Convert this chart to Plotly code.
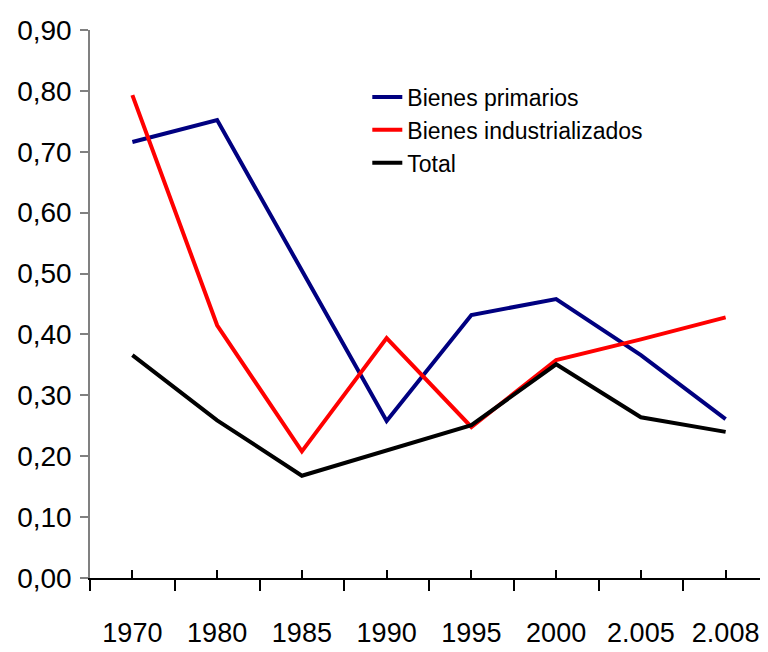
import plotly.graph_objects as go

categories = ["1970", "1980", "1985", "1990", "1995", "2000", "2.005", "2.008"]
primarios = [0.716, 0.752, 0.505, 0.258, 0.432, 0.458, 0.366, 0.261]
industrializados = [0.793, 0.415, 0.208, 0.394, 0.248, 0.358, 0.392, 0.428]
total = [0.366, 0.259, 0.168, 0.209, 0.251, 0.351, 0.264, 0.240]
y_ticks = [0.0, 0.1, 0.2, 0.3, 0.4, 0.5, 0.6, 0.7, 0.8, 0.9]
y_labels = ["0,00", "0,10", "0,20", "0,30", "0,40", "0,50", "0,60", "0,70", "0,80", "0,90"]

FONT = "Liberation Sans, Arial, sans-serif"

fig = go.Figure()
fig.add_trace(go.Scatter(x=categories, y=primarios, mode="lines", name="Bienes primarios",
                         line=dict(color="#000080", width=4)))
fig.add_trace(go.Scatter(x=categories, y=industrializados, mode="lines", name="Bienes industrializados",
                         line=dict(color="#FF0000", width=4)))
fig.add_trace(go.Scatter(x=categories, y=total, mode="lines", name="Total",
                         line=dict(color="#000000", width=4)))
# helper trace so the overlay axis knows the categories (draws the inner ticks)
fig.add_trace(go.Scatter(x=categories, y=[None] * len(categories), xaxis="x2", mode="lines",
                         showlegend=False, hoverinfo="skip"))

fig.update_layout(
    width=760, height=644,
    margin=dict(l=82, r=0, t=22, b=74),
    paper_bgcolor="white", plot_bgcolor="white",
    font=dict(family=FONT, size=27, color="black"),
    showlegend=True,
    legend=dict(x=0.409, y=0.917, xanchor="left", yanchor="top",
                bgcolor="rgba(0,0,0,0)", font=dict(family=FONT, size=23, color="black"),
                tracegroupgap=0),
    xaxis=dict(type="category", categoryorder="array", categoryarray=categories,
               range=[-0.5, 7.5], showgrid=False, zeroline=False, automargin=False,
               showline=True, linecolor="black", linewidth=1.5, tickangle=0,
               ticks="outside", tickson="boundaries", ticklen=11, tickcolor="black", tickwidth=1.5,
               ticklabelstandoff=30, tickfont=dict(family=FONT, size=27, color="black")),
    xaxis2=dict(type="category", categoryorder="array", categoryarray=categories,
                overlaying="x", matches="x", range=[-0.5, 7.5], side="bottom", automargin=False,
                showgrid=False, zeroline=False, showline=False, showticklabels=False,
                ticks="inside", ticklen=8, tickcolor="black", tickwidth=1.5),
    yaxis=dict(range=[0, 0.9], tickvals=y_ticks, ticktext=y_labels, automargin=False,
               showgrid=False, zeroline=False, showline=True, linecolor="#808080", linewidth=1.5,
               ticks="outside", ticklen=8, tickcolor="#808080", tickwidth=1.5,
               ticklabelstandoff=3, tickfont=dict(family=FONT, size=28, color="black")),
)

fig.write_html("out.html")
